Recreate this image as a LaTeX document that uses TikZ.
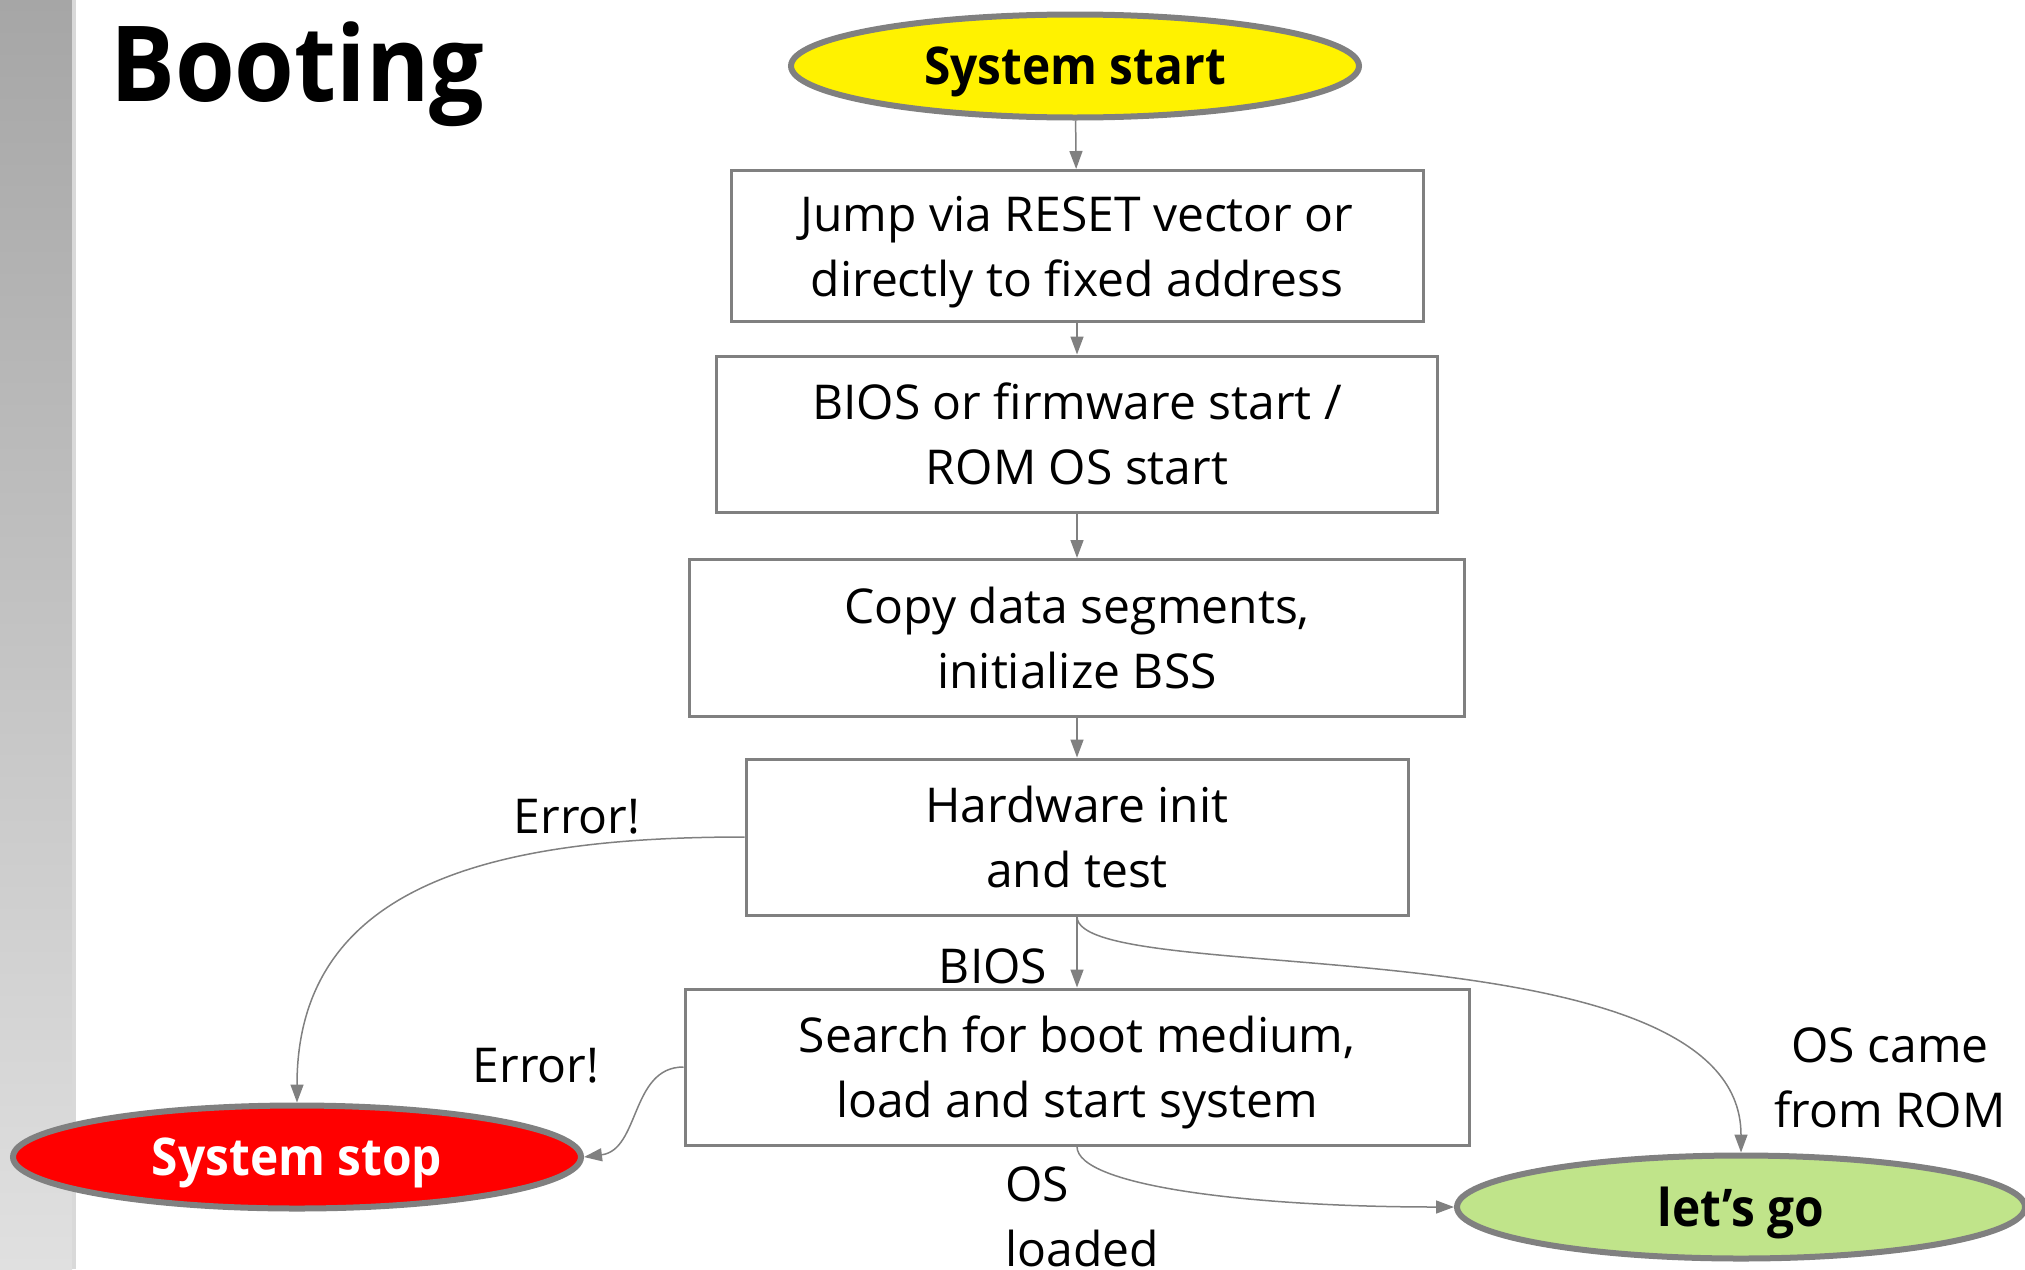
\documentclass[tikz,border=0pt]{standalone}
\usepackage{fontspec}
\setmainfont{Open Sans}
\newfontfamily\narrowbold{Open Sans}[FakeStretch=0.92]
\usetikzlibrary{shapes.geometric,arrows.meta}
\definecolor{edge}{HTML}{808080}
\definecolor{golight}{HTML}{C0E48A}
\definecolor{barTop}{HTML}{A6A6A6}
\definecolor{barBot}{HTML}{E0E0E0}
\definecolor{barStrip}{HTML}{D9D9D9}
\tikzset{
  stepbox/.style={draw=edge,line width=3pt,align=center,inner sep=0pt,text height=100pt,text depth=0pt,font=\fontsize{48}{65}\selectfont},
  term/.style={ellipse,draw=edge,line width=6pt,minimum width=568pt,minimum height=103pt,inner sep=0pt,text depth=0pt,font=\fontsize{52}{60}\narrowbold\bfseries},
  arr/.style={draw=edge,line width=1.5pt,-{Triangle[length=18pt,width=13pt]}},
  lbl/.style={inner sep=0pt,align=center,font=\fontsize{48}{65}\selectfont}
}
\begin{document}
\begin{tikzpicture}[x=1pt,y=1pt]
\useasboundingbox (0,0) rectangle (2025,-1269);
\shade[top color=barTop,bottom color=barBot](0,0)rectangle(72,-1269);
\fill[barStrip](72,0)rectangle(76,-1269);
\node[anchor=base west,inner sep=0pt,font=\fontsize{105}{110}\narrowbold\bfseries] (title) at (110,-101) {Booting};
% terminals
\node[term,fill=yellow] (start) at (1075,-66) {System start};
\node[term,fill=red,text=white] (stop) at (297,-1157) {System stop};
\node[term,fill=golight] (go) at (1741,-1207) {let’s go};
% steps
\foreach \n/\y/\w/\h/\t in {b1/246/692/151/{Jump via RESET vector or\\directly to fixed address},
  b2/434/721/156/{BIOS or firmware start /\\ROM OS start},
  b3/638/775/157/{Copy data segments,\\initialize BSS},
  b4/837/662/156/{Hardware init\\and test},
  b5/1067/784/156/{Search for boot medium,\\load and start system}}
  \node[stepbox,minimum width=\w pt,minimum height=\h pt] (\n) at (1077,-\y) {\t};
\foreach \a/\b in {start/b1,b1/b2,b2/b3,b3/b4,b4/b5}
  \draw[arr] (\a) -- (\b);
\draw[arr] (b4.west) .. controls +(-244,0) and +(0,222) .. (stop.north);
\draw[arr] (b5.west) .. controls +(-53,0) and +(56,7) .. (stop.east);
\draw[arr] (b4.south) .. controls +(0,-73) and +(0,233) .. (go.north);
\draw[arr] (b5.south) .. controls +(0,-40) and +(-200,0) .. (go.west);
% labels
\node[lbl,anchor=base] (err1) at (577,-833) {Error!};
\node[lbl,anchor=base] (err2) at (536,-1082) {Error!};
\node[lbl,anchor=base] (bios) at (993,-983) {BIOS};
\node[lbl,anchor=base] (rom) at (1890,-1127) {OS came\\from ROM};
\node[lbl,anchor=base west,align=left] (loaded) at (1005,-1266) {OS\\loaded};
\end{tikzpicture}
\end{document}
